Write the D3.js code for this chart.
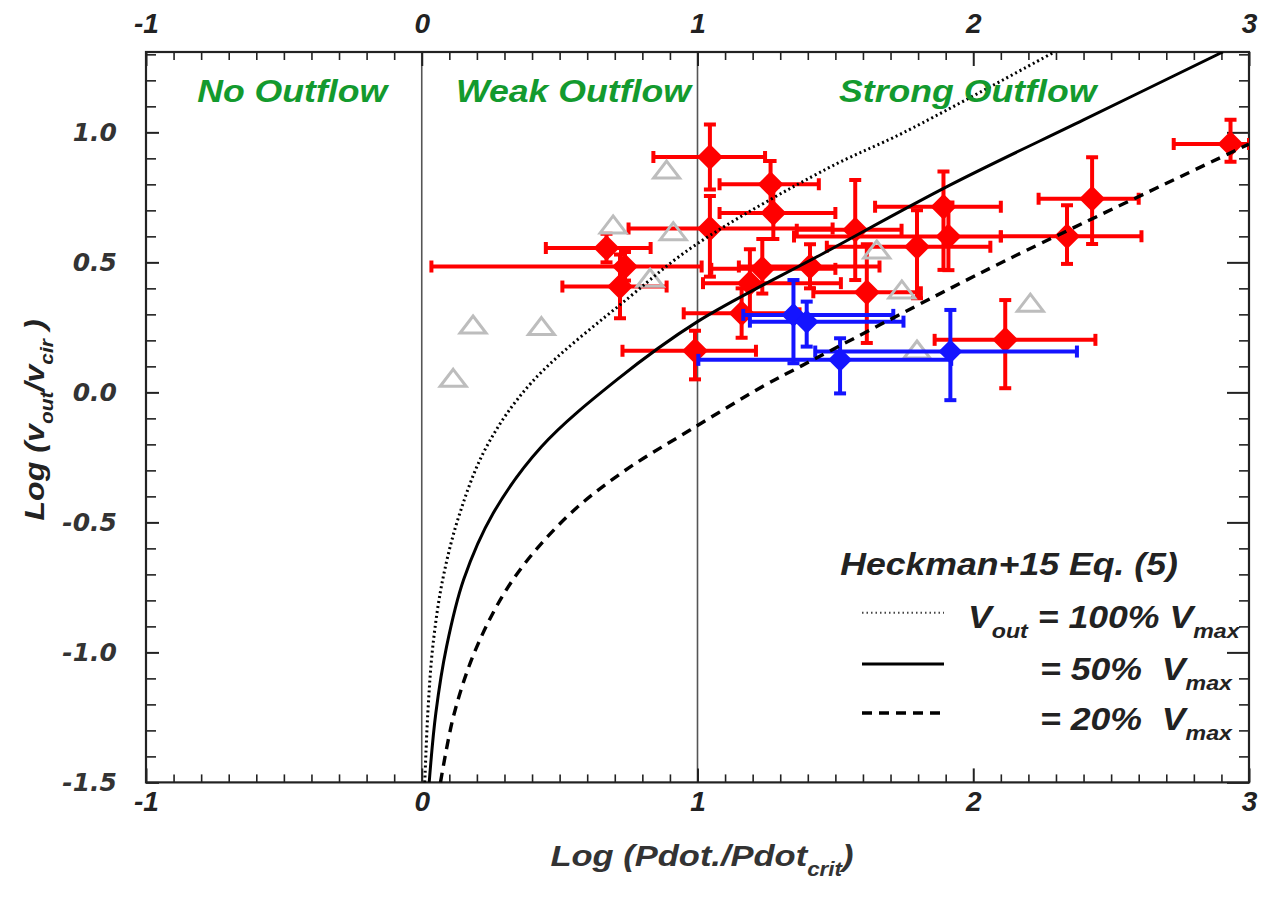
<!DOCTYPE html>
<html lang="en">
<head>
<meta charset="utf-8">
<title>Outflow velocity vs momentum flux</title>
<script src="https://d3js.org/d3.v7.min.js"></script>
<style>
	body { margin: 0; background: #fff; }
	text { white-space: pre; }
</style>
</head>
<body>
<svg id="chart" width="1271" height="902"></svg>
<script>
// ---- data ----
// red diamonds: centre and error bar ends
var redX   = [1.045, 1.265, 1.275, 1.045, 0.670, 0.737, 0.719, 0.991, 1.160, 1.190, 1.235, 1.408, 1.572, 1.614, 1.796, 1.892, 1.910, 2.340, 2.431, 2.116, 2.933];
var redY   = [0.905, 0.800, 0.690, 0.630, 0.555, 0.484, 0.407, 0.160, 0.304, 0.420, 0.475, 0.484, 0.625, 0.385, 0.560, 0.714, 0.599, 0.600, 0.745, 0.202, 0.955];
var redXLo = [0.840, 1.080, 1.080, 0.750, 0.450, 0.035, 0.510, 0.728, 0.950, 1.020, 1.050, 1.150, 1.360, 1.420, 1.469, 1.644, 1.350, 2.100, 2.237, 1.860, 2.727];
var redXHi = [1.245, 1.440, 1.500, 1.490, 0.830, 1.015, 0.888, 1.212, 1.370, 1.520, 1.500, 1.660, 1.740, 1.810, 2.062, 2.100, 2.100, 2.610, 2.600, 2.443, 3.000];
var redYLo = [0.780, 0.700, 0.590, 0.445, 0.500, 0.430, 0.285, 0.050, 0.210, 0.300, 0.380, 0.400, 0.432, 0.190, 0.362, 0.471, 0.470, 0.494, 0.571, 0.016, 0.887];
var redYHi = [1.030, 0.890, 0.790, 0.755, 0.610, 0.540, 0.530, 0.237, 0.400, 0.550, 0.590, 0.570, 0.817, 0.570, 0.700, 0.849, 0.730, 0.720, 0.904, 0.355, 1.048];

// blue diamonds
var blueX   = [1.348, 1.396, 1.517, 1.917];
var blueY   = [0.298, 0.272, 0.125, 0.157];
var blueXLo = [1.166, 1.190, 1.003, 1.427];
var blueXHi = [1.710, 1.747, 1.920, 2.376];
var blueYLo = [0.112, 0.176, -0.004, -0.030];
var blueYHi = [0.432, 0.349, 0.208, 0.317];

// grey open triangles
var triX = [0.888, 0.694, 0.912, 0.828, 0.186, 0.434, 0.114, 1.650, 1.741, 2.207, 1.796];
var triY = [0.855, 0.644, 0.618, 0.439, 0.259, 0.253, 0.054, 0.548, 0.394, 0.343, 0.163];

// Heckman+15 Eq. (5) curves
var v100X = [0.011, 0.022, 0.040, 0.076, 0.138, 0.235, 0.400, 0.755, 0.990, 1.469, 1.749, 2.294];
var v100Y = [-1.50, -1.234, -0.978, -0.720, -0.465, -0.209, 0.040, 0.368, 0.565, 0.860, 1.000, 1.309];
var v50X  = [0.027, 0.051, 0.090, 0.152, 0.259, 0.434, 0.707, 1.000, 1.457, 1.917, 2.400, 2.905];
var v50Y  = [-1.50, -1.234, -0.978, -0.720, -0.465, -0.209, 0.048, 0.272, 0.535, 0.798, 1.048, 1.309];
var v20X  = [0.068, 0.118, 0.200, 0.331, 0.525, 0.731, 0.973, 1.245, 1.372, 1.917, 2.158, 3.000];
var v20Y  = [-1.50, -1.234, -0.978, -0.720, -0.480, -0.305, -0.145, 0.028, 0.099, 0.400, 0.528, 0.955];

// ticks and labels
var xMajor = [-1, 0, 1, 2, 3];
var yMajor = [-1.5, -1.0, -0.5, 0.0, 0.5, 1.0];
var regionNames = ["No Outflow", "Weak Outflow", "Strong Outflow"];
var regionX = [-0.47, 0.55, 1.98];
var dividers = [0, 1];

// ---- layout ----
var plotLeft = 146, plotRight = 1249, plotTop = 52, plotBottom = 782.4;
var green = "#139a2e";
var svg = d3.select("#chart");

var x = d3.scaleLinear().domain([-1, 3]).range([plotLeft, plotRight]);
var y = d3.scaleLinear().domain([-1.5, 1.309]).range([plotBottom, plotTop]);

var xMinor = d3.range(-10, 31).map(function(i) { return i / 10; }).filter(function(d) { return d % 1 !== 0; });
var yMinor = d3.range(-15, 14).map(function(i) { return i / 10; }).filter(function(d) { return Math.abs(d * 2 % 1) > 1e-6; });

svg.append("defs").append("clipPath").attr("id", "plotClip")
	.append("rect").attr("x", plotLeft).attr("y", plotTop).attr("width", plotRight - plotLeft).attr("height", plotBottom - plotTop);

// stretched bold italic text with optional subscripts
function addText(parent, px, py, anchor, size, color, parts, extra) {
	var t = parent.append("text")
		.attr("transform", "translate(" + px + "," + py + ")" + (extra || "") + " scale(1.15,1)")
		.attr("text-anchor", anchor)
		.attr("font-family", "Liberation Sans, Arial, sans-serif")
		.attr("font-weight", "bold")
		.attr("font-style", "italic")
		.attr("font-size", size)
		.attr("fill", color);
	var shift = 0;
	parts.forEach(function(p) {
		var sub = p[1];
		var target = sub ? size * 0.33 : 0;
		t.append("tspan")
			.attr("dy", target - shift)
			.attr("font-size", sub ? size * 0.65 : size)
			.text(p[0]);
		shift = target;
	});
	return t;
}

// ---- dividers ----
svg.selectAll("line.divider").data(dividers).enter().append("line")
	.attr("class", "divider")
	.attr("x1", function(d) { return x(d); }).attr("x2", function(d) { return x(d); })
	.attr("y1", plotTop).attr("y2", plotBottom)
	.attr("stroke", "#555").attr("stroke-width", 1.6);

// ---- axes ----
function styleTicks(g, w) {
	g.select(".domain").remove();
	g.selectAll(".tick line").attr("stroke-width", w);
	g.attr("color", "#222");
}
var fmtX = function(d) { return String(d); };
var fmtY = function(d) { return d.toFixed(1); };

svg.append("g").attr("transform", "translate(0," + plotBottom + ")")
	.call(d3.axisBottom(x).tickValues(xMinor).tickSize(-8).tickFormat(""))
	.call(styleTicks, 1.6);
svg.append("g").attr("transform", "translate(0," + plotTop + ")")
	.call(d3.axisTop(x).tickValues(xMinor).tickSize(-8).tickFormat(""))
	.call(styleTicks, 1.6);
svg.append("g").attr("transform", "translate(" + plotLeft + ",0)")
	.call(d3.axisLeft(y).tickValues(yMinor).tickSize(-10).tickFormat(""))
	.call(styleTicks, 1.6);
svg.append("g").attr("transform", "translate(" + plotRight + ",0)")
	.call(d3.axisRight(y).tickValues(yMinor).tickSize(-10).tickFormat(""))
	.call(styleTicks, 1.6);

var xb = svg.append("g").attr("transform", "translate(0," + plotBottom + ")")
	.call(d3.axisBottom(x).tickValues(xMajor).tickSize(-14).tickPadding(9).tickFormat(fmtX))
	.call(styleTicks, 2);
var xt = svg.append("g").attr("transform", "translate(0," + plotTop + ")")
	.call(d3.axisTop(x).tickValues(xMajor).tickSize(-14).tickPadding(19).tickFormat(fmtX))
	.call(styleTicks, 2);
[xb, xt].forEach(function(g) {
	g.attr("font-family", "Liberation Sans, Arial, sans-serif").attr("font-size", 28)
		.attr("font-weight", "bold").attr("font-style", "italic");
	g.selectAll(".tick text").attr("fill", "#222");
});
var yl = svg.append("g").attr("transform", "translate(" + plotLeft + ",0)")
	.call(d3.axisLeft(y).tickValues(yMajor).tickSize(-13).tickPadding(29).tickFormat(fmtY))
	.call(styleTicks, 2);
yl.attr("font-family", "DejaVu Sans, Verdana, sans-serif").attr("font-size", 25)
	.attr("font-weight", "bold").attr("font-style", "oblique");
yl.selectAll(".tick text").attr("fill", "#333");
svg.append("g").attr("transform", "translate(" + plotRight + ",0)")
	.call(d3.axisRight(y).tickValues(yMajor).tickSize(-22).tickFormat(""))
	.call(styleTicks, 2);

svg.append("rect")
	.attr("x", plotLeft).attr("y", plotTop).attr("width", plotRight - plotLeft).attr("height", plotBottom - plotTop)
	.attr("fill", "none").attr("stroke", "#222").attr("stroke-width", 2.2);

// ---- data marks ----
var plot = svg.append("g").attr("clip-path", "url(#plotClip)");

function drawErrPoints(color, xs, ys, xlo, xhi, ylo, yhi, size) {
	var idx = d3.range(xs.length);
	var g = plot.append("g").attr("stroke", color).attr("stroke-width", 4).attr("fill", color);
	var cap = 6;
	idx.forEach(function(i) {
		var cx = x(xs[i]), cy = y(ys[i]);
		var pg = g.append("g");
		pg.append("line").attr("x1", x(xlo[i])).attr("x2", x(xhi[i])).attr("y1", cy).attr("y2", cy);
		pg.append("line").attr("x1", cx).attr("x2", cx).attr("y1", y(ylo[i])).attr("y2", y(yhi[i]));
		[xlo[i], xhi[i]].forEach(function(v) {
			pg.append("line").attr("x1", x(v)).attr("x2", x(v)).attr("y1", cy - cap).attr("y2", cy + cap);
		});
		[ylo[i], yhi[i]].forEach(function(v) {
			pg.append("line").attr("x1", cx - cap).attr("x2", cx + cap).attr("y1", y(v)).attr("y2", y(v));
		});
		pg.append("path")
			.attr("d", "M0," + (-size) + "L" + size + ",0L0," + size + "L" + (-size) + ",0Z")
			.attr("transform", "translate(" + cx + "," + cy + ")")
			.attr("stroke", "none");
	});
}

drawErrPoints("#ff0000", redX, redY, redXLo, redXHi, redYLo, redYHi, 13);

plot.selectAll("path.tri").data(d3.range(triX.length)).enter().append("path")
	.attr("class", "tri")
	.attr("d", "M0,-9L13,8L-13,8Z")
	.attr("transform", function(i) { return "translate(" + x(triX[i]) + "," + y(triY[i]) + ")"; })
	.attr("fill", "none").attr("stroke", "#bdbdbd").attr("stroke-width", 3).attr("stroke-linejoin", "miter");

drawErrPoints("#1414ff", blueX, blueY, blueXLo, blueXHi, blueYLo, blueYHi, 12);

// ---- model curves ----
var line = d3.line()
	.x(function(d) { return x(d[0]); })
	.y(function(d) { return y(d[1]); })
	.curve(d3.curveCatmullRom.alpha(0.5));
function zip(a, b) { return a.map(function(v, i) { return [v, b[i]]; }); }
var curveStyles = [
	{ pts: zip(v100X, v100Y), dash: "2,3", w: 3 },
	{ pts: zip(v50X, v50Y), dash: null, w: 3 },
	{ pts: zip(v20X, v20Y), dash: "10,7", w: 3.4 }
];
curveStyles.forEach(function(c) {
	plot.append("path").datum(c.pts)
		.attr("d", line)
		.attr("fill", "none").attr("stroke", "#000")
		.attr("stroke-width", c.w)
		.attr("stroke-dasharray", c.dash);
});

// ---- region labels ----
regionNames.forEach(function(name, i) {
	addText(svg, x(regionX[i]), 102, "middle", 31, green, [[name, false]]);
});

// ---- legend ----
addText(svg, 1009, 575, "middle", 31, "#222", [["Heckman+15 Eq. (5)", false]]);
var legendRows = [
	{ y: 612.7, dash: "1.5,3", w: 2, lw: "#444" },
	{ y: 664, dash: null, w: 3.2, lw: "#000" },
	{ y: 713, dash: "10,7", w: 3.6, lw: "#000" }
];
legendRows.forEach(function(r) {
	svg.append("line").attr("x1", 862).attr("x2", 944).attr("y1", r.y).attr("y2", r.y)
		.attr("stroke", r.lw).attr("stroke-width", r.w).attr("stroke-dasharray", r.dash);
});
addText(svg, 968, 628, "start", 31, "#222", [["V", false], ["out", true], [" = 100% V", false], ["max", true]]);
addText(svg, 1040, 680, "start", 31, "#222", [["= 50%  V", false], ["max", true]]);
addText(svg, 1040, 730, "start", 31, "#222", [["= 20%  V", false], ["max", true]]);

// ---- axis titles ----
addText(svg, 702, 866, "middle", 30, "#333", [["Log (Pdot./Pdot", false], ["crit", true], [")", false]]);
addText(svg, 44, 420, "middle", 28, "#222", [["Log (v", false], ["out", true], ["/v", false], ["cir", true], [" )", false]], " rotate(-90)");
</script>
</body>
</html>
